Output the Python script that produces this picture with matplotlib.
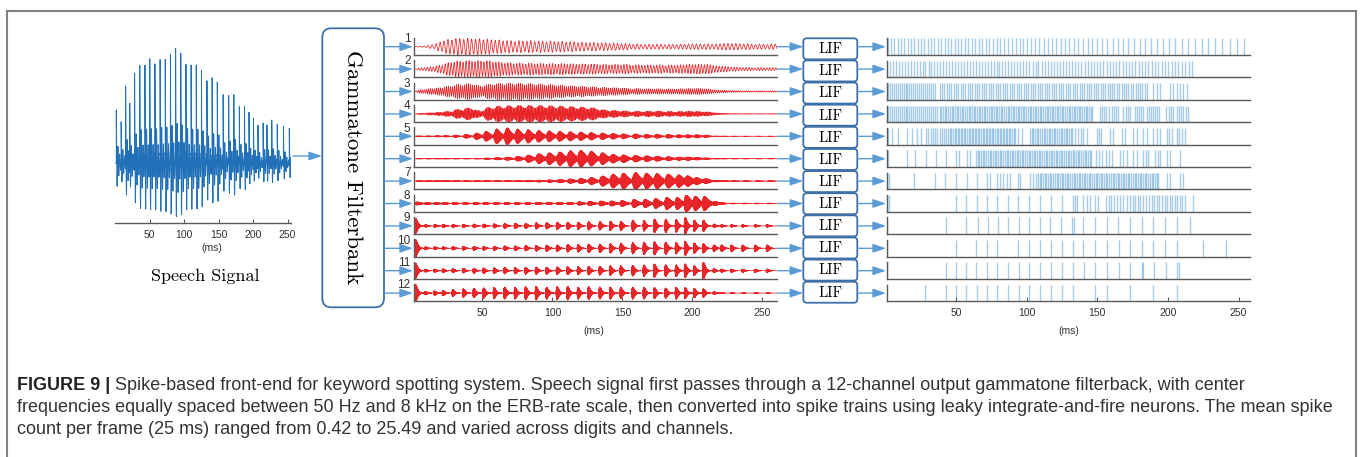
import numpy as np
import matplotlib
matplotlib.use('Agg')
import matplotlib.pyplot as plt
from matplotlib.patches import FancyBboxPatch

# ---------------- data ----------------
pitch_marks = [1.5, 8.5, 15, 21, 28, 35.5, 43, 50, 57.5, 65,
               72.5, 80, 87.5, 95, 102.5, 110, 117.5, 125, 133, 140.5,
               148, 156.5, 164.5, 172, 180, 187.5, 194, 200.5, 207, 214.5,
               220, 227, 235, 244, 252.5]

speech_amp = [0.5, 0.35, 0.75, 0.65, 0.8, 0.85, 0.85, 0.9, 0.85, 0.9,
              0.9, 0.95, 1.0, 0.95, 0.85, 0.85, 0.85, 0.8, 0.8, 0.75,
              0.7, 0.7, 0.65, 0.6, 0.55, 0.5, 0.5, 0.45, 0.38, 0.35,
              0.37, 0.37, 0.37, 0.35, 0.35]

channel_labels = ['1', '2', '3', '4', '5', '6', '7', '8', '9', '10', '11', '12']
channel_freq_hz = [355, 470, 700, 1000, 1400, 1900, 2600, 3400, 4300, 5300, 6400, 7600]
channel_decay_ms = [6.0, 6.0, 5.5, 4.5, 2.8, 3.0, 3.0, 1.8, 0.9, 0.9, 0.85, 0.85]
channel_order = [2, 2, 2, 2, 2, 2, 2, 1, 1, 1, 1, 1]

env_ch1 = [0.1, 0.3, 0.7, 0.9, 1.0, 1.0, 0.9, 0.8, 0.75, 0.7, 0.7, 0.7, 0.65, 0.65, 0.6, 0.55, 0.5, 0.5, 0.45, 0.4,
           0.35, 0.3, 0.3, 0.28, 0.28, 0.3, 0.3, 0.28, 0.3, 0.35, 0.35, 0.35, 0.35, 0.35, 0.35]
env_ch2 = [0.25, 0.3, 0.5, 0.85, 1.0, 1.0, 0.95, 0.9, 0.75, 0.7, 0.7, 0.7, 0.65, 0.65, 0.65, 0.6, 0.6, 0.6, 0.55, 0.55,
           0.55, 0.55, 0.5, 0.5, 0.5, 0.5, 0.5, 0.5, 0.45, 0.25, 0.2, 0.2, 0.2, 0.2, 0.2]
env_ch3 = [0.3, 0.35, 0.4, 0.6, 0.85, 0.9, 0.5, 0.9, 0.95, 0.95, 0.9, 0.85, 0.8, 0.75, 0.65, 0.6, 0.55, 0.5, 0.45, 0.4,
           0.35, 0.35, 0.3, 0.3, 0.3, 0.3, 0.3, 0.3, 0.2, 0.1, 0.08, 0.08, 0.08, 0.08, 0.08]
env_ch4 = [0.1, 0.15, 0.2, 0.3, 0.6, 0.75, 0.3, 0.9, 0.95, 1.0, 1.0, 1.0, 1.0, 0.95, 0.9, 0.85, 0.8, 0.7, 0.45, 0.4,
           0.35, 0.35, 0.35, 0.35, 0.3, 0.3, 0.3, 0.25, 0.2, 0.05, 0.04, 0.04, 0.04, 0.04, 0.04]
env_ch5 = [0.08, 0.08, 0.1, 0.1, 0.15, 0.25, 0.4, 0.6, 0.9, 1.0, 0.85, 0.8, 0.7, 0.65, 0.6, 0.55, 0.5, 0.45, 0.4, 0.35,
           0.3, 0.3, 0.25, 0.25, 0.25, 0.2, 0.2, 0.2, 0.15, 0.05, 0.04, 0.04, 0.04, 0.04, 0.04]
env_ch6 = [0.05, 0.05, 0.05, 0.05, 0.05, 0.05, 0.06, 0.1, 0.15, 0.2, 0.3, 0.45, 0.6, 0.7, 0.8, 0.95, 1.0, 0.85, 0.7, 0.5,
           0.45, 0.4, 0.35, 0.3, 0.25, 0.2, 0.2, 0.15, 0.1, 0.05, 0.04, 0.04, 0.04, 0.04, 0.04]
env_ch7 = [0.06, 0.06, 0.06, 0.06, 0.06, 0.06, 0.06, 0.06, 0.06, 0.07, 0.08, 0.1, 0.12, 0.15, 0.2, 0.25, 0.3, 0.4, 0.6, 0.8,
           0.9, 1.0, 0.9, 0.85, 0.8, 0.7, 0.55, 0.35, 0.25, 0.08, 0.05, 0.05, 0.05, 0.05, 0.05]
env_ch8 = [0.2, 0.12, 0.12, 0.12, 0.12, 0.12, 0.12, 0.12, 0.12, 0.12, 0.12, 0.12, 0.15, 0.15, 0.15, 0.15, 0.2, 0.25, 0.3, 0.3,
           0.35, 0.5, 0.5, 0.6, 0.75, 0.7, 1.0, 0.8, 0.8, 0.2, 0.06, 0.05, 0.05, 0.05, 0.05]
env_ch9 = [0.7, 0.12, 0.15, 0.15, 0.15, 0.15, 0.18, 0.18, 0.2, 0.25, 0.25, 0.25, 0.3, 0.3, 0.35, 0.35, 0.35, 0.4, 0.4, 0.45,
           0.45, 0.55, 0.5, 0.65, 0.65, 0.6, 0.8, 0.55, 0.55, 0.18, 0.12, 0.12, 0.12, 0.12, 0.12]
env_ch10 = [0.9, 0.15, 0.15, 0.15, 0.18, 0.2, 0.2, 0.2, 0.22, 0.25, 0.25, 0.28, 0.3, 0.35, 0.35, 0.4, 0.4, 0.45, 0.45, 0.5,
            0.55, 0.6, 0.65, 0.7, 0.65, 0.6, 0.75, 0.55, 0.5, 0.35, 0.35, 0.35, 0.35, 0.35, 0.35]
env_ch11 = [0.85, 0.15, 0.18, 0.2, 0.22, 0.25, 0.28, 0.3, 0.32, 0.35, 0.35, 0.38, 0.4, 0.4, 0.42, 0.45, 0.45, 0.48, 0.5, 0.55,
            0.55, 0.6, 0.65, 0.75, 0.65, 0.65, 0.75, 0.55, 0.95, 0.22, 0.18, 0.18, 0.18, 0.18, 0.18]
env_ch12 = [1.0, 0.2, 0.25, 0.3, 0.4, 0.5, 0.55, 0.6, 0.65, 0.7, 0.7, 0.75, 0.8, 0.7, 0.75, 0.8, 0.7, 0.75, 0.7, 0.7,
            0.65, 0.7, 0.7, 0.65, 0.6, 0.7, 0.65, 0.55, 0.5, 0.18, 0.03, 0.03, 0.03, 0.03, 0.03]
channel_env = [env_ch1, env_ch2, env_ch3, env_ch4, env_ch5, env_ch6,
               env_ch7, env_ch8, env_ch9, env_ch10, env_ch11, env_ch12]

spikes_ch1 = [1.7, 4.0, 6.4, 8.7, 11.1, 13.4, 15.8, 18.2, 20.5, 22.9, 25.3, 27.6, 30.0, 32.4, 34.7, 37.1, 39.5, 41.9,
              44.3, 46.6, 49.0, 51.4, 53.9, 56.3, 58.7, 61.2, 63.7, 66.2, 68.7, 71.2, 73.7, 76.3, 78.9, 81.5, 84.1,
              86.8, 89.5, 92.2, 95.0, 97.8, 100.6, 103.4, 106.2, 109.1, 112.0, 114.9, 117.9, 120.9, 124.0, 127.1,
              130.2, 133.4, 136.6, 139.9, 143.2, 146.6, 150.0, 153.6, 157.2, 160.8, 164.5, 168.3, 172.1, 176.0,
              180.0, 184.0, 188.1, 192.3, 196.6, 200.9, 205.3, 209.8, 214.4, 219.1, 223.9, 228.7, 233.6, 238.6,
              243.7, 248.8, 254.0]
spikes_ch2 = [1.5, 3.4, 5.6, 7.5, 9.8, 11.7, 13.9, 16.0, 18.0, 20.2, 22.1, 24.3, 26.4, 28.4, 30.6, 32.5, 34.7, 36.8,
              38.8, 41.0, 43.0, 45.1, 47.3, 49.2, 51.4, 53.5, 55.5, 57.7, 59.8, 61.8, 64.0, 66.1, 68.1, 70.3, 72.4,
              74.5, 76.6, 78.7, 80.8, 82.9, 85.0, 87.1, 89.3, 91.4, 93.5, 95.6, 97.8, 99.9, 102.0, 104.2, 106.3,
              108.4, 110.6, 112.7, 114.9, 117.0, 119.2, 121.3, 123.5, 125.7, 127.8, 130.0, 132.2, 134.4, 136.6,
              138.8, 141.0, 143.2, 145.4, 147.6, 149.9, 152.1, 154.3, 156.6, 158.8, 161.1, 163.3, 165.6, 167.9,
              170.1, 172.4, 174.7, 177.0, 179.3, 181.6, 183.9, 186.2, 188.6, 190.9, 193.2, 195.6, 197.9, 200.3,
              202.7, 205.0, 207.4, 209.8, 212.2, 214.6, 217.0]
spikes_ch3 = [1.7, 3.1, 4.5, 5.9, 7.3, 8.7, 10.1, 11.5, 12.9, 14.3, 15.7, 17.1, 18.5, 19.9, 21.3, 22.7, 24.1, 25.5,
              26.9, 28.3, 29.7, 31.1, 32.5, 33.9, 35.3, 38.5, 40.1, 41.8, 43.4, 45.1, 46.7, 48.4, 50.0, 51.7, 53.3,
              55.0, 56.6, 58.3, 59.9, 61.6, 63.2, 64.9, 66.5, 68.2, 69.8, 71.5, 73.1, 74.8, 76.4, 78.1, 79.7, 81.4,
              83.0, 84.7, 86.3, 88.0, 89.6, 91.3, 92.9, 94.6, 96.2, 97.9, 99.5, 101.2, 102.8, 104.5, 106.1, 107.8,
              109.4, 111.1, 112.7, 114.4, 116.0, 117.7, 119.3, 121.0, 122.6, 124.3, 125.9, 127.6, 129.2, 130.9,
              132.5, 134.2, 135.8, 137.5, 139.1, 140.8, 142.4, 144.1, 145.7, 147.4, 149.0, 150.7, 152.3, 154.0,
              155.6, 157.3, 158.9, 160.6, 162.2, 163.9, 165.5, 167.2, 168.8, 170.5, 172.1, 173.8, 175.4, 177.1,
              178.7, 180.4, 182.0, 183.7, 185.3, 189.7, 192.0, 194.4, 201.5, 203.9, 206.2, 208.6, 210.9, 213.3]
spikes_ch4 = [1.7, 3.1, 4.5, 5.9, 7.3, 8.7, 10.1, 11.5, 12.9, 14.3, 15.7, 17.1, 18.5, 19.9, 21.3, 22.7, 24.1, 25.5,
              26.9, 28.3, 29.7, 31.1, 32.5, 33.9, 35.3, 36.7, 38.5, 39.7, 40.9, 42.1, 43.3, 44.5, 45.7, 46.9, 48.1,
              49.3, 50.5, 51.7, 52.9, 54.1, 55.3, 56.5, 57.7, 58.9, 60.1, 61.3, 62.5, 63.7, 64.9, 66.1, 67.3, 68.5,
              69.7, 70.9, 72.1, 73.3, 74.5, 75.7, 76.9, 78.1, 79.3, 80.5, 81.7, 82.9, 84.1, 85.3, 86.5, 87.7, 88.9,
              90.1, 91.3, 92.5, 93.7, 94.9, 96.1, 97.3, 98.5, 99.7, 100.9, 102.1, 103.3, 104.5, 105.7, 106.9, 108.1,
              109.3, 110.5, 111.7, 112.9, 114.1, 115.3, 116.5, 117.7, 118.9, 120.1, 121.3, 122.5, 123.7, 124.9,
              126.1, 127.3, 128.5, 129.7, 130.9, 132.1, 133.3, 134.5, 135.7, 136.9, 138.1, 139.3, 140.5, 141.7,
              142.9, 144.1, 145.3, 146.5, 152.0, 153.5, 155.0, 156.5, 158.0, 160.5, 162.0, 163.5, 165.0, 168.5,
              170.0, 171.5, 173.0, 176.5, 178.0, 179.5, 181.0, 182.5, 185.0, 186.5, 188.0, 189.5, 191.0, 192.5,
              194.0, 199.0, 200.5, 202.0, 203.5, 206.5, 208.0, 209.5, 211.0, 212.5, 214.0]
spikes_ch5 = [1.7, 4.5, 9.2, 15.5, 18.7, 22.2, 25.1, 28.8, 30.4, 32.0, 33.6, 35.2, 36.8, 38.4, 40.0, 41.6, 43.2,
              44.6, 45.7, 46.8, 47.9, 49.0, 50.1, 51.2, 52.3, 53.4, 54.5, 55.6, 56.7, 57.8, 58.9, 60.0, 61.1, 62.2,
              63.3, 64.4, 65.5, 66.6, 67.7, 68.8, 69.9, 71.0, 72.1, 73.2, 74.3, 75.4, 76.5, 77.6, 78.7, 79.8, 80.9,
              82.0, 83.1, 84.2, 85.3, 86.4, 87.5, 88.6, 89.7, 90.8, 91.9, 94.0, 96.5, 102.4, 103.6, 104.8, 106.0,
              107.2, 108.4, 109.6, 110.8, 112.0, 113.2, 114.4, 115.6, 116.8, 118.0, 119.2, 120.4, 121.6, 122.8,
              124.0, 125.2, 126.4, 127.6, 128.8, 130.0, 131.2, 132.4, 134.5, 136.5, 138.5, 140.0, 142.5, 149.6,
              151.3, 153.0, 159.0, 161.2, 167.3, 169.5, 175.5, 177.8, 182.6, 184.9, 189.7, 192.0, 194.3, 199.1,
              200.9, 202.6, 206.2, 208.2, 210.2, 212.1]
spikes_ch6 = [1.7, 15.1, 21.0, 28.6, 35.6, 42.7, 49.8, 52.2, 57.6, 59.9, 64.2, 65.4, 66.6, 67.8, 69.0, 70.2, 71.4,
              72.6, 73.8, 75.0, 76.2, 77.4, 78.6, 79.8, 81.0, 82.2, 83.4, 84.6, 85.8, 87.0, 88.2, 89.4, 90.6, 91.8,
              93.0, 94.2, 95.4, 96.6, 97.8, 99.0, 100.2, 101.4, 102.6, 103.8, 105.0, 106.2, 107.4, 108.6, 109.8,
              111.0, 112.2, 113.4, 114.6, 115.8, 117.0, 118.2, 119.4, 120.6, 121.8, 123.0, 124.2, 125.4, 126.6,
              127.8, 129.0, 130.2, 131.4, 132.6, 133.8, 135.0, 136.2, 137.4, 138.6, 139.8, 141.0, 142.2, 143.4,
              144.6, 145.8, 149.1, 151.1, 153.1, 156.2, 158.2, 160.2, 166.1, 168.5, 170.8, 175.5, 177.9, 182.6,
              184.4, 186.2, 190.9, 192.7, 194.4, 199.1, 201.5, 208.6]
spikes_ch7 = [1.5, 2.5, 20.5, 35.2, 42.2, 49.8, 57.6, 64.7, 71.7, 74.1, 78.8, 81.2, 83.6, 86.0, 88.3, 94.1, 95.3,
              102.4, 104.8, 106.8, 108.0, 109.2, 110.4, 111.6, 112.8, 114.0, 115.2, 116.4, 117.6, 118.8, 120.0,
              121.2, 122.4, 123.6, 124.8, 126.0, 127.2, 128.4, 129.6, 130.8, 132.0, 133.2, 134.4, 135.6, 136.8,
              138.0, 139.2, 140.4, 141.6, 142.8, 144.0, 145.2, 146.4, 147.6, 148.8, 150.0, 151.2, 152.4, 153.6,
              154.8, 156.0, 157.2, 158.4, 159.6, 160.8, 162.0, 163.2, 164.4, 165.6, 166.8, 168.0, 169.2, 170.4,
              171.6, 172.8, 174.0, 175.2, 176.4, 177.6, 178.8, 180.0, 181.2, 182.4, 183.6, 184.8, 186.0, 187.2,
              188.4, 189.6, 190.8, 192.0, 193.2, 199.1, 201.5, 208.6, 210.9]
spikes_ch8 = [1.5, 2.5, 49.8, 56.9, 64.7, 71.7, 78.8, 87.1, 94.1, 101.9, 109.5, 117.3, 124.8, 132.6, 134.0, 135.4,
              140.1, 142.5, 144.8, 148.4, 150.8, 156.2, 158.0, 160.0, 162.0, 163.7, 166.1, 168.5, 170.8, 173.2,
              175.0, 176.8, 178.6, 180.3, 182.6, 184.6, 186.6, 188.5, 190.2, 192.0, 193.8, 195.6, 197.6, 199.4,
              201.2, 203.0, 204.8, 206.6, 208.4, 210.2, 212.0, 218.0]
spikes_ch9 = [1.5, 42.7, 56.9, 65.4, 72.9, 80.0, 87.1, 94.8, 101.9, 109.5, 116.6, 124.4, 132.4, 133.3, 140.1, 148.4,
              156.7, 164.9, 173.2, 181.4, 189.7, 197.9, 206.7, 215.6]
spikes_ch10 = [1.5, 49.8, 63.9, 71.7, 79.3, 94.1, 101.9, 109.5, 117.3, 124.8, 132.6, 140.1, 148.4, 156.7, 165.6,
               173.2, 181.4, 189.7, 197.9, 206.7, 225.1, 241.1]
spikes_ch11 = [1.5, 42.7, 49.8, 56.9, 64.0, 71.7, 79.3, 87.1, 94.8, 101.9, 109.5, 117.3, 124.8, 132.6, 140.6, 148.4,
               156.7, 165.6, 173.2, 181.4, 182.6, 189.9, 198.4, 206.7, 208.0]
spikes_ch12 = [28.1, 42.7, 49.8, 56.9, 64.7, 71.7, 79.3, 87.1, 94.8, 101.9, 109.5, 117.3, 124.8, 132.6, 148.4,
               156.7, 173.2, 189.7, 206.7]
channel_spikes = [spikes_ch1, spikes_ch2, spikes_ch3, spikes_ch4, spikes_ch5, spikes_ch6,
                  spikes_ch7, spikes_ch8, spikes_ch9, spikes_ch10, spikes_ch11, spikes_ch12]

time_ticks = [50, 100, 150, 200, 250]
time_tick_labels = ['50', '100', '150', '200', '250']

caption_bold = 'FIGURE 9 |'
caption_lines = [
    ' Spike-based front-end for keyword spotting system. Speech signal first passes through a 12-channel output gammatone filterback, with center',
    'frequencies equally spaced between 50 Hz and 8 kHz on the ERB-rate scale, then converted into spike trains using leaky integrate-and-fire neurons. The mean spike',
    'count per frame (25 ms) ranged from 0.42 to 25.49 and varied across digits and channels.',
]

# ---------------- layout helpers ----------------
W, H = 1360, 457
fig = plt.figure(figsize=(W / 100, H / 100), dpi=100)
SANS = 'Liberation Sans'
SERIF = 'cmr10'
ARROW_C = '#5b9bd5'
BOX_C = '#3d6fa8'
WAVE_C = '#e8262a'
SPIKE_C = '#3a8fd0'
SPEECH_C = '#2170b8'
SPINE_C = '#5a5a5a'


def px_axes(x0, y0, x1, y1):
    return fig.add_axes([x0 / W, 1 - y1 / H, (x1 - x0) / W, (y1 - y0) / H])


def style_row(ax, show_ticks):
    for s in ['top', 'right']:
        ax.spines[s].set_visible(False)
    for s in ['left', 'bottom']:
        ax.spines[s].set_color(SPINE_C)
        ax.spines[s].set_linewidth(1.0)
    ax.set_yticks([])
    ax.set_facecolor('none')
    if show_ticks:
        ax.set_xticks(time_ticks)
        ax.set_xticklabels(time_tick_labels, family=SANS, fontsize=7.5, color='#303030')
        ax.tick_params(axis='x', direction='in', length=3, width=0.8, color=SPINE_C, pad=5)
    else:
        ax.set_xticks([])


def kernel(t, t0, tp, order):
    tau = t - t0
    out = np.zeros_like(t)
    m = tau > 0
    x = tau[m] / tp
    out[m] = x ** order * np.exp(order * (1 - x))
    return out


# ---------------- speech signal ----------------
ax_s = px_axes(115.3, 44, 290.7, 222.7)
ts = np.arange(0, 254.5, 0.0625)
s = np.zeros_like(ts)
for tk, a in zip(pitch_marks, speech_amp):
    tau = ts - tk
    m = tau >= 0
    tt = tau[m]
    s[m] += a * (0.45 * np.exp(-tt / 0.25)
                 + 0.6 * np.exp(-tt / 4.0) * np.cos(2 * np.pi * tt / 2.45 + 0.2))
s = s / s.max() * 115
ax_s.plot(ts, s, color=SPEECH_C, lw=0.7)
ax_s.set_xlim(0, 254.5)
ax_s.set_ylim(-59.4, 119.3)
style_row(ax_s, True)
ax_s.spines['left'].set_visible(False)

# ---------------- filter outputs and spikes ----------------
row_c0, row_dy = 46.7, 22.4
tw = np.linspace(0, 261, 30001)
for i in range(12):
    c = row_c0 + row_dy * i
    # waveform
    ax = px_axes(414.0, c - 9.0, 776.7, c + 8.3)
    env = np.zeros_like(tw)
    for tk, a in zip(pitch_marks, channel_env[i]):
        env += a * kernel(tw, tk, channel_decay_ms[i], channel_order[i])
    env /= env.max()
    y = env * np.cos(2 * np.pi * channel_freq_hz[i] / 1000.0 * tw) * 8.6
    ax.plot(tw, y, color=WAVE_C, lw=0.55)
    ax.set_xlim(1.1, 260.2)
    ax.set_ylim(-8.3, 9.0)
    style_row(ax, i == 11)
    # spikes
    ax2 = px_axes(887.0, c - 8.4, 1250.0, c + 8.3)
    ax2.vlines(channel_spikes[i], 0, 1, color=SPIKE_C, lw=1.0, alpha=0.45)
    ax2.set_xlim(1.2, 258.1)
    ax2.set_ylim(0, 1)
    style_row(ax2, i == 11)

# ---------------- overlay: boxes, arrows, text ----------------
ov = fig.add_axes([0, 0, 1, 1])
ov.set_xlim(0, W)
ov.set_ylim(H, 0)
ov.axis('off')


def arrow(x0, x1, y):
    ov.annotate('', xy=(x1, y), xytext=(x0, y),
                arrowprops=dict(arrowstyle='-|>,head_length=0.65,head_width=0.22',
                                color=ARROW_C, lw=1.0, shrinkA=0, shrinkB=0,
                                mutation_scale=12))


# frame
ov.plot([7.3, 7.3, 1355.7, 1355.7], [H, 10.7, 10.7, H], color='#808080', lw=1.5,
        solid_joinstyle='miter')

# speech label and arrow
ov.text(205.5, 276.7, 'Speech Signal', family=SERIF, fontsize=13, ha='center', va='center')
ov.text(211.7, 247.7, '(ms)', family=SANS, fontsize=7.5, ha='center', va='center', color='#303030')
arrow(293, 322, 156)

# gammatone box
ov.add_patch(FancyBboxPatch((322.3, 28.3), 61.7, 279.0,
                            boxstyle='round,pad=0,rounding_size=9',
                            ec=BOX_C, fc='white', lw=1.3))
ov.text(353.2, 167.5, 'Gammatone Filterbank', family=SERIF, fontsize=16.5,
        rotation=-90, ha='center', va='center', rotation_mode='anchor')

for i in range(12):
    c = row_c0 + row_dy * i
    arrow(384.5, 413.0, c)
    ov.text(410.5, c - 7.7, channel_labels[i], family=SANS, fontsize=8.5,
            ha='right', va='center', color='#303030')
    arrow(777.5, 803.3, c)
    by = 38.3 + 22.13 * i
    ov.add_patch(FancyBboxPatch((803.3, by), 54.0, 21.0,
                                boxstyle='round,pad=0,rounding_size=3.5',
                                ec=BOX_C, fc='white', lw=1.3))
    ov.text(830.3, by + 11.0, 'LIF', family=SERIF, fontsize=10.5, ha='center', va='center')
    arrow(857.5, 886.0, c)

ov.text(594.0, 331.0, '(ms)', family=SANS, fontsize=7.5, ha='center', va='center', color='#303030')
ov.text(1068.5, 331.0, '(ms)', family=SANS, fontsize=7.5, ha='center', va='center', color='#303030')

# caption
CAP_FS = 12.95
cap_x, cap_y0, cap_dy = 17.0, 386.0, 22.0
renderer = fig.canvas.get_renderer()
tb = fig.text(cap_x / W, 1 - cap_y0 / H, caption_bold, family=SANS, fontsize=CAP_FS,
              fontweight='bold', color='#222222', va='center', ha='left')
bb = tb.get_window_extent(renderer=renderer)
fig.text(bb.x1 / W, 1 - cap_y0 / H, caption_lines[0], family=SANS, fontsize=CAP_FS,
         color='#333333', va='center', ha='left')
for k in (1, 2):
    fig.text(cap_x / W, 1 - (cap_y0 + cap_dy * k) / H, caption_lines[k], family=SANS,
             fontsize=CAP_FS, color='#333333', va='center', ha='left')

fig.savefig('out.png', dpi=100)
